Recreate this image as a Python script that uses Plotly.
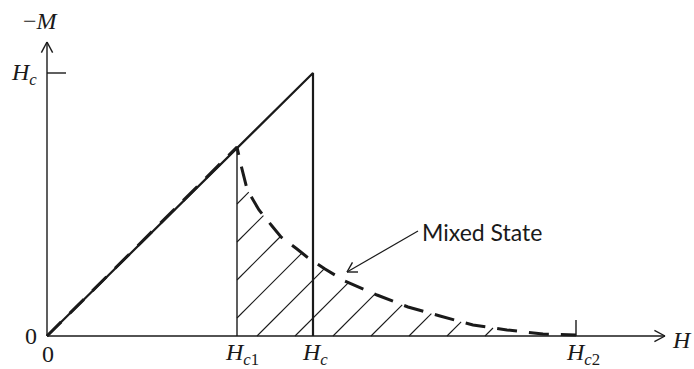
import numpy as np
import plotly.graph_objects as go

# Characteristic fields (H axis) and the magnetisation reached at Hc
H_C1 = 1.90
H_C = 2.66
H_C2 = 5.29
M_AT_HC = 2.63

# Type-II magnetisation curve: Meissner rise to Hc1, then decay to Hc2
curve_h = [0.00, 1.90, 1.94, 2.00, 2.05, 2.12, 2.25, 2.34, 2.50, 2.60, 2.78,
           2.98, 3.30, 3.61, 3.93, 4.26, 4.60, 4.96, 5.29]
curve_m = [0.00, 1.89, 1.71, 1.47, 1.38, 1.26, 1.10, 0.99, 0.87, 0.79, 0.67,
           0.55, 0.41, 0.29, 0.20, 0.11, 0.06, 0.02, 0.01]

BLACK = "#1a1a1a"
SERIF = "Liberation Serif"
fig = go.Figure()


def seg(xs, ys, width, dash="solid"):
    fig.add_trace(go.Scatter(x=xs, y=ys, mode="lines", hoverinfo="skip",
                             line=dict(color=BLACK, width=width, dash=dash),
                             showlegend=False))


def chevron(tip, direction, length=0.12, half_angle=28):
    d = np.array(direction, float)
    d /= np.hypot(*d)
    xs, ys = [], []
    for s in (1, -1):
        a = np.radians(s * half_angle)
        r = np.array([d[0] * np.cos(a) - d[1] * np.sin(a),
                      d[0] * np.sin(a) + d[1] * np.cos(a)])
        xs += [tip[0] - length * r[0], tip[0], None]
        ys += [tip[1] - length * r[1], tip[1], None]
    seg(xs, ys, 1.4)


# Axes with open arrowheads
Y_TOP, X_END = 2.94, 6.18
seg([0, 0], [0, Y_TOP], 1.4)
seg([0, X_END], [0, 0], 1.4)
chevron((0, Y_TOP), (0, 1))
chevron((X_END, 0), (1, 0))
seg([0, 0.19], [M_AT_HC, M_AT_HC], 1.4)          # Hc tick on the M axis
seg([H_C2, H_C2], [0, 0.16], 1.4)                # Hc2 marker

# Hatching of the mixed-state region between Hc1 and the curve
dense_h = np.linspace(H_C1, H_C2, 4000)
dense_m = np.interp(dense_h, curve_h, curve_m)
hx, hy = [], []
for b in np.arange(0.58, 4.40, 0.38):
    if b >= H_C1:
        x0, y0 = b, 0.0
    else:
        x0, y0 = H_C1, H_C1 - b
    diff = dense_m - (dense_h - b)
    idx = np.where((diff[:-1] > 0) & (diff[1:] <= 0))[0]
    if len(idx) == 0:
        continue
    x1 = dense_h[idx[0]]
    hx += [x0, x1, None]
    hy += [y0, x1 - b, None]
seg(hx, hy, 1.1)
seg([H_C1, H_C1], [0, curve_m[1]], 1.4)

# Ideal type-I response: linear up to Hc, then drops to zero
seg([0, H_C, H_C], [0, M_AT_HC, 0], 2.2)

# Type-II response (dashed)
seg(curve_h, curve_m, 3.0, dash="20px,12px")

# Pointer to the mixed state
tail = (3.71, 1.05)
tip = (3.00, 0.64)
seg([tail[0], tip[0]], [tail[1], tip[1]], 1.2)
chevron(tip, (tip[0] - tail[0], tip[1] - tail[1]), length=0.11, half_angle=30)

SIZE = 24
# Field labels under the H axis (anchored by their bottom edge)
for x, txt, xs in [
    (H_C1, "<i>H</i><sub><i>c</i>1</sub>", -14),
    (H_C, "<i>H</i><sub><i>c</i></sub>", -13),
    (H_C2, "<i>H</i><sub><i>c</i>2</sub>", -12),
]:
    fig.add_annotation(x=x, y=-0.33, text=txt, showarrow=False, xanchor="left",
                       yanchor="bottom", xshift=xs, yshift=-2,
                       font=dict(family=SERIF, size=SIZE, color=BLACK))

labels = [
    (0, -0.33, "0", "center", 1, 0, "bottom"),
    (0, 0, "0", "right", -8, 0, "middle"),
    (0, M_AT_HC, "<i>H</i><sub><i>c</i></sub>", "right", -8, -1, "middle"),
    (0, 3.15, "\u2212<i>M</i>", "center", -6, 0, "middle"),
    (X_END, 0, "<i>H</i>", "left", 5, -4, "middle"),
]
for x, y, txt, anchor, xs, ys, ya in labels:
    fig.add_annotation(x=x, y=y, text=txt, showarrow=False, xanchor=anchor,
                       yanchor=ya, xshift=xs, yshift=ys,
                       font=dict(family=SERIF, size=SIZE, color=BLACK))

fig.add_annotation(x=tail[0], y=tail[1], text="Mixed State", showarrow=False,
                   xanchor="left", yanchor="middle", xshift=2, yshift=-1,
                   font=dict(family="Lato", size=23, color=BLACK))

fig.update_layout(
    width=694, height=369,
    margin=dict(l=0, r=0, t=0, b=0),
    paper_bgcolor="white", plot_bgcolor="white",
    xaxis=dict(range=[-0.47, 6.47], visible=False, fixedrange=True),
    yaxis=dict(range=[-0.33, 3.36], visible=False, fixedrange=True),
)

fig.write_html("out.html")
